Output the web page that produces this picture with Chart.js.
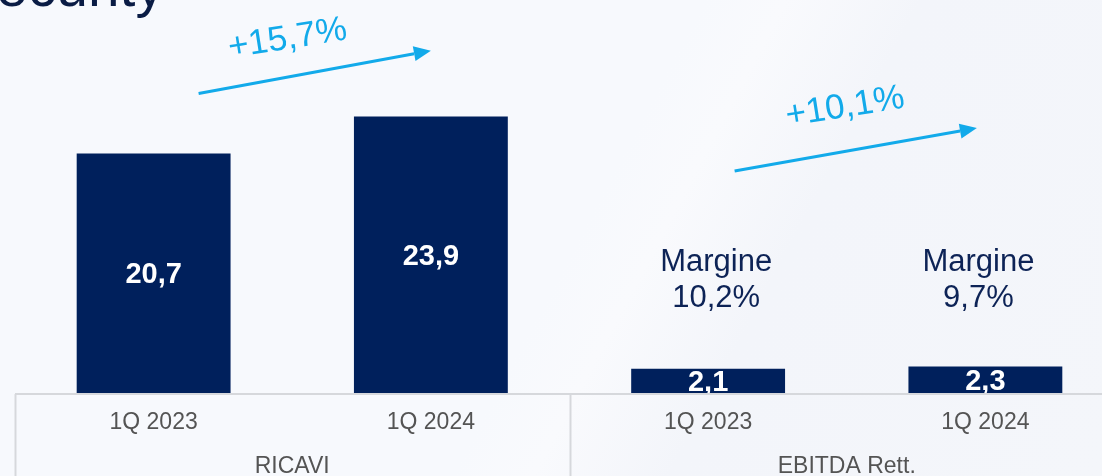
<!DOCTYPE html>
<html>
<head>
<meta charset="utf-8">
<script src="https://cdn.jsdelivr.net/npm/chart.js@4/dist/chart.umd.min.js"></script>
<style>
  html, body { margin:0; padding:0; overflow:hidden; width:1102px; height:476px;
    background: linear-gradient(118deg, #f7f9fd 0%, #f7f9fd 52%, #f9fafd 58%, #f3f5fa 68%, #f4f6fa 100%); }
  #wrap { position:absolute; left:0; top:0; width:1124px; height:476px; }
</style>
</head>
<body>
<div id="wrap"><canvas id="c"></canvas></div>
<script>
const categories = ['1Q 2023', '1Q 2024', '1Q 2023', '1Q 2024'];
const groupLabels = ['RICAVI', 'EBITDA Rett.'];
const values = [20.7, 23.9, 2.1, 2.3];
const valueLabels = ['20,7', '23,9', '2,1', '2,3'];
const growthLabels = ['+15,7%', '+10,1%'];
const marginTitle = 'Margine';
const marginLabels = [null, null, '10,2%', '9,7%'];
const titleText = 'ecurity';

const NAVY = '#00205c';
const CYAN = '#12aaea';

const deco = {
  id: 'deco',
  afterDatasetsDraw(chart) {
    const ctx = chart.ctx, ca = chart.chartArea;
    const x = chart.scales.x, y = chart.scales.y;
    const meta = chart.getDatasetMeta(0);
    const catW = x.getPixelForValue(1) - x.getPixelForValue(0);

    // value labels inside bars, clipped at baseline
    ctx.save();
    ctx.beginPath();
    ctx.rect(0, 0, chart.width, ca.bottom + 1);
    ctx.clip();
    ctx.fillStyle = '#ffffff';
    ctx.font = 'bold 29px "Liberation Sans", Arial, sans-serif';
    ctx.textAlign = 'center';
    ctx.textBaseline = 'middle';
    meta.data.forEach((bar, i) => {
      const cy = (bar.y + bar.base) / 2 + 2;
      ctx.fillText(valueLabels[i], bar.x, cy);
    });
    ctx.restore();

    // margin labels
    ctx.save();
    ctx.fillStyle = '#0d2356';
    ctx.font = '31px "Liberation Sans", Arial, sans-serif';
    ctx.textAlign = 'center';
    ctx.textBaseline = 'middle';
    const mOff = [0, 0, 8, -7];
    marginLabels.forEach((m, i) => {
      if (!m) return;
      const cx = x.getPixelForValue(i) + mOff[i];
      ctx.fillText(marginTitle, cx, ca.bottom - 131);
      ctx.fillText(m, cx, ca.bottom - 95);
    });
    ctx.restore();

    // growth arrows
    const arrows = [
      { from: [x.getPixelForValue(0) + 45, y.getPixelForValue(25.9)], to: [x.getPixelForValue(1), y.getPixelForValue(29.6)],
        label: growthLabels[0], lx: x.getPixelForValue(0) + 134, ly: y.getPixelForValue(30.6) },
      { from: [x.getPixelForValue(2) + 26.5, y.getPixelForValue(19.2)], to: [x.getPixelForValue(3) - 8.5, y.getPixelForValue(22.9)],
        label: growthLabels[1], lx: x.getPixelForValue(2) + 137, ly: y.getPixelForValue(24.7) }
    ];
    ctx.save();
    arrows.forEach(a => {
      const [x0, y0] = a.from, [x1, y1] = a.to;
      const ang = Math.atan2(y1 - y0, x1 - x0);
      const L = 17, W = 7.5;
      const bx = x1 - L * Math.cos(ang), by = y1 - L * Math.sin(ang);
      ctx.strokeStyle = CYAN; ctx.fillStyle = CYAN; ctx.lineWidth = 3;
      ctx.beginPath(); ctx.moveTo(x0, y0); ctx.lineTo(bx, by); ctx.stroke();
      ctx.beginPath();
      ctx.moveTo(x1, y1);
      ctx.lineTo(bx + W * Math.sin(ang), by - W * Math.cos(ang));
      ctx.lineTo(bx - W * Math.sin(ang), by + W * Math.cos(ang));
      ctx.closePath(); ctx.fill();
      ctx.save();
      ctx.translate(a.lx, a.ly);
      ctx.rotate(-9 * Math.PI / 180);
      ctx.font = '35px "Liberation Sans", Arial, sans-serif';
      ctx.textAlign = 'center'; ctx.textBaseline = 'middle';
      ctx.fillText(a.label, 0, 0);
      ctx.restore();
    });
    ctx.restore();

    // title fragment
    ctx.save();
    ctx.fillStyle = '#0a1c45';
    ctx.font = '57px "Liberation Sans", Arial, sans-serif';
    ctx.textAlign = 'left'; ctx.textBaseline = 'alphabetic';
    ctx.fillText(titleText, -4, 6);
    ctx.restore();

    // table
    ctx.save();
    const top = ca.bottom + 1;
    ctx.strokeStyle = '#d6d8dc';
    ctx.lineWidth = 2;
    ctx.beginPath(); ctx.moveTo(ca.left, top); ctx.lineTo(chart.width, top); ctx.stroke();
    const bounds = [x.getPixelForValue(0) - catW / 2, x.getPixelForValue(2) - catW / 2, x.getPixelForValue(3) + catW / 2];
    [bounds[0], bounds[1]].forEach(bx => {
      ctx.beginPath(); ctx.moveTo(Math.round(bx) + 0.5, top); ctx.lineTo(Math.round(bx) + 0.5, chart.height); ctx.stroke();
    });
    ctx.fillStyle = '#545454';
    ctx.font = '23px "Liberation Sans", Arial, sans-serif';
    ctx.textAlign = 'center'; ctx.textBaseline = 'middle';
    categories.forEach((c, i) => ctx.fillText(c, x.getPixelForValue(i), top + 28.5));
    groupLabels.forEach((g, i) => ctx.fillText(g, (bounds[i] + bounds[i + 1]) / 2, top + 72.5));
    ctx.restore();
  }
};

new Chart(document.getElementById('c'), {
  type: 'bar',
  data: {
    labels: categories,
    datasets: [{
      data: values,
      backgroundColor: NAVY,
      borderWidth: 0,
      barPercentage: 0.555,
      categoryPercentage: 1.0
    }]
  },
  options: {
    responsive: true,
    maintainAspectRatio: false,
    animation: false,
    layout: { padding: { left: 15, right: 0, top: 46, bottom: 83 } },
    plugins: { legend: { display: false }, tooltip: { enabled: false } },
    scales: {
      x: { display: false },
      y: { display: false, min: 0, max: 30 }
    }
  },
  plugins: [deco]
});
</script>
</body>
</html>
